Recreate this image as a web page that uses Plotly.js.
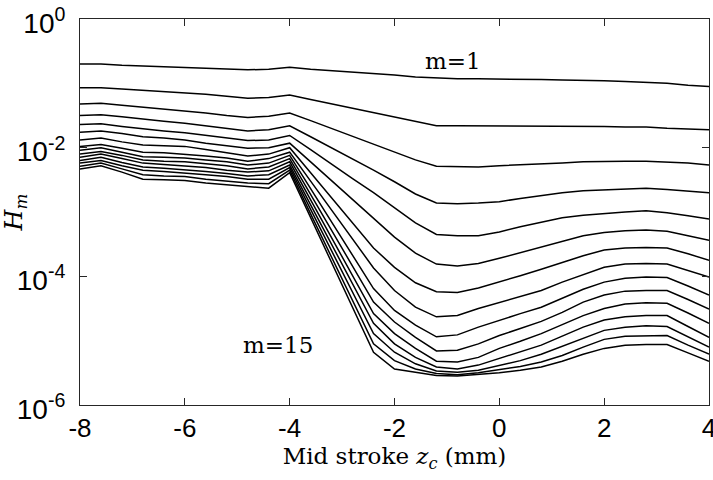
<!DOCTYPE html>
<html><head><meta charset="utf-8">
<script src="https://cdn.plot.ly/plotly-3.0.1.min.js"></script>
<style>html,body{margin:0;padding:0;background:#fff}#chart{width:713px;height:480px}</style>
</head><body><div id="chart"></div>
<script>
// Mid stroke position z_c (mm)
const zc = [-8,-7.6,-7.2,-6.8,-6.4,-6,-5.6,-5.2,-4.8,-4.4,-4,-3.6,-3.2,-2.8,-2.4,-2,-1.6,-1.2,-0.8,-0.4,0,0.4,0.8,1.2,1.6,2,2.4,2.8,3.2,3.6,4];

// log10(H_m), one array per harmonic m
const logH_m1  = [-0.70,-0.70,-0.72,-0.73,-0.74,-0.75,-0.76,-0.77,-0.79,-0.78,-0.75,-0.78,-0.80,-0.82,-0.85,-0.87,-0.90,-0.92,-0.93,-0.93,-0.93,-0.94,-0.94,-0.95,-0.95,-0.96,-0.97,-0.98,-1.00,-1.03,-1.05];
const logH_m2  = [-1.07,-1.07,-1.09,-1.11,-1.12,-1.14,-1.17,-1.20,-1.23,-1.22,-1.18,-1.25,-1.32,-1.39,-1.46,-1.52,-1.59,-1.66,-1.66,-1.66,-1.66,-1.66,-1.66,-1.66,-1.66,-1.67,-1.68,-1.68,-1.70,-1.71,-1.72];
const logH_m3  = [-1.32,-1.31,-1.34,-1.37,-1.40,-1.42,-1.46,-1.50,-1.53,-1.51,-1.46,-1.58,-1.70,-1.82,-1.94,-2.06,-2.19,-2.29,-2.30,-2.30,-2.28,-2.27,-2.25,-2.24,-2.22,-2.21,-2.21,-2.21,-2.22,-2.24,-2.27];
const logH_m4  = [-1.50,-1.49,-1.52,-1.56,-1.59,-1.62,-1.66,-1.70,-1.74,-1.72,-1.66,-1.83,-2.00,-2.17,-2.35,-2.53,-2.72,-2.86,-2.87,-2.86,-2.84,-2.79,-2.74,-2.70,-2.67,-2.66,-2.64,-2.63,-2.65,-2.68,-2.70];
const logH_m5  = [-1.64,-1.63,-1.67,-1.71,-1.74,-1.77,-1.81,-1.85,-1.89,-1.88,-1.81,-2.03,-2.26,-2.48,-2.70,-2.94,-3.17,-3.35,-3.37,-3.37,-3.31,-3.23,-3.16,-3.09,-3.05,-3.02,-3.00,-2.98,-3.01,-3.06,-3.11];
const logH_m6  = [-1.76,-1.74,-1.78,-1.83,-1.85,-1.88,-1.93,-1.97,-2.01,-2.00,-1.93,-2.22,-2.51,-2.80,-3.09,-3.39,-3.64,-3.81,-3.84,-3.80,-3.72,-3.63,-3.54,-3.45,-3.37,-3.32,-3.29,-3.28,-3.30,-3.37,-3.44];
const logH_m7  = [-1.88,-1.85,-1.91,-1.96,-1.97,-1.98,-2.03,-2.08,-2.13,-2.10,-2.00,-2.39,-2.78,-3.17,-3.56,-3.86,-4.10,-4.24,-4.25,-4.18,-4.09,-3.99,-3.89,-3.78,-3.68,-3.59,-3.56,-3.55,-3.56,-3.65,-3.75];
const logH_m8  = [-1.98,-1.95,-2.01,-2.07,-2.08,-2.10,-2.13,-2.16,-2.21,-2.17,-2.07,-2.52,-2.97,-3.42,-3.87,-4.22,-4.48,-4.63,-4.61,-4.50,-4.41,-4.31,-4.22,-4.09,-3.97,-3.86,-3.81,-3.80,-3.81,-3.91,-4.01];
const logH_m9  = [-2.04,-2.00,-2.07,-2.14,-2.15,-2.16,-2.19,-2.22,-2.27,-2.24,-2.12,-2.64,-3.15,-3.67,-4.19,-4.53,-4.76,-4.94,-4.91,-4.79,-4.68,-4.58,-4.48,-4.34,-4.20,-4.09,-4.03,-4.01,-4.02,-4.15,-4.29];
const logH_m10 = [-2.10,-2.06,-2.12,-2.19,-2.21,-2.22,-2.25,-2.28,-2.33,-2.30,-2.17,-2.73,-3.29,-3.84,-4.40,-4.71,-4.95,-5.16,-5.15,-5.05,-4.92,-4.81,-4.70,-4.56,-4.40,-4.29,-4.23,-4.22,-4.22,-4.36,-4.51];
const logH_m11 = [-2.15,-2.10,-2.17,-2.24,-2.26,-2.28,-2.31,-2.35,-2.38,-2.36,-2.22,-2.81,-3.40,-3.99,-4.58,-4.89,-5.12,-5.32,-5.33,-5.26,-5.12,-5.01,-4.89,-4.75,-4.61,-4.50,-4.43,-4.41,-4.42,-4.57,-4.73];
const logH_m12 = [-2.20,-2.15,-2.23,-2.30,-2.32,-2.34,-2.37,-2.40,-2.44,-2.42,-2.27,-2.89,-3.50,-4.12,-4.73,-5.05,-5.26,-5.41,-5.44,-5.38,-5.28,-5.18,-5.07,-4.93,-4.79,-4.68,-4.63,-4.61,-4.61,-4.78,-4.95];
const logH_m13 = [-2.24,-2.20,-2.28,-2.35,-2.37,-2.39,-2.42,-2.45,-2.49,-2.49,-2.31,-2.96,-3.60,-4.25,-4.89,-5.18,-5.36,-5.47,-5.49,-5.46,-5.38,-5.31,-5.21,-5.09,-4.96,-4.84,-4.79,-4.77,-4.78,-4.94,-5.10];
const logH_m14 = [-2.29,-2.24,-2.33,-2.42,-2.44,-2.45,-2.49,-2.52,-2.55,-2.56,-2.35,-3.03,-3.70,-4.37,-5.05,-5.31,-5.44,-5.51,-5.53,-5.50,-5.45,-5.40,-5.33,-5.23,-5.10,-4.98,-4.93,-4.92,-4.92,-5.07,-5.21];
const logH_m15 = [-2.33,-2.28,-2.38,-2.49,-2.50,-2.51,-2.55,-2.58,-2.61,-2.63,-2.39,-3.09,-3.79,-4.48,-5.18,-5.44,-5.49,-5.54,-5.55,-5.53,-5.50,-5.46,-5.41,-5.32,-5.21,-5.12,-5.07,-5.06,-5.06,-5.19,-5.32];

const xTickVals = [-8,-6,-4,-2,0,2,4];
const xTickText = ['-8','-6','-4','-2','0','2','4'];
const yTickVals = [1,1e-2,1e-4,1e-6];
const yTickText = ['10<sup>0</sup>','10<sup>-2</sup>','10<sup>-4</sup>','10<sup>-6</sup>'];

const series = [logH_m1,logH_m2,logH_m3,logH_m4,logH_m5,logH_m6,logH_m7,logH_m8,logH_m9,logH_m10,logH_m11,logH_m12,logH_m13,logH_m14,logH_m15];

const traces = series.map((lg, i) => ({
  type: 'scatter', mode: 'lines', name: 'm=' + (i + 1),
  x: zc, y: lg.map(v => Math.pow(10, v)),
  line: {color: '#000000', width: 1.5}, showlegend: false
}));

const axisCol = '#262626';
const serif = 'DejaVu Serif, serif';
const sans = 'Liberation Sans, Arial, sans-serif';
const layout = {
  width: 713, height: 480,
  margin: {l: 80, r: 4, t: 19, b: 75, pad: 0},
  paper_bgcolor: '#ffffff', plot_bgcolor: '#ffffff',
  showlegend: false,
  xaxis: {
    range: [-8, 4], tickvals: xTickVals, ticktext: xTickText,
    ticks: 'inside', ticklen: 7, tickwidth: 1, tickcolor: axisCol,
    showline: true, linecolor: axisCol, linewidth: 1, mirror: 'ticks',
    showgrid: false, zeroline: false, automargin: false,
    ticklabeloverflow: 'allow',
    tickfont: {family: sans, size: 26, color: '#000'},
    title: {text: 'Mid stroke <i>z</i><sub><i>c</i></sub> (mm)', standoff: 0,
            font: {family: serif, size: 23, color: '#000'}}
  },
  yaxis: {
    type: 'log', range: [-6, 0], tickvals: yTickVals, ticktext: yTickText,
    ticks: 'inside', ticklen: 7, tickwidth: 1, tickcolor: axisCol,
    showline: true, linecolor: axisCol, linewidth: 1, mirror: 'ticks',
    showgrid: false, zeroline: false, automargin: false,
    ticklabeloverflow: 'allow', ticklabelstandoff: 8, ticklabelshift: 4,
    tickfont: {family: sans, size: 28, color: '#000'},
    title: {text: '<i>H</i><sub><i>m</i></sub>', standoff: 0,
            font: {family: serif, size: 24, color: '#000'}}
  },
  annotations: [
    {x: -0.88, y: -0.66, xref: 'x', yref: 'y', text: 'm=1', showarrow: false,
     xanchor: 'center', yanchor: 'middle',
     font: {family: serif, size: 23, color: '#000'}},
    {x: -4.22, y: -5.07, xref: 'x', yref: 'y', text: 'm=15', showarrow: false,
     xanchor: 'center', yanchor: 'middle',
     font: {family: serif, size: 23, color: '#000'}}
  ]
};

Plotly.newPlot('chart', traces, layout, {displayModeBar: false, staticPlot: true});
</script>
</body></html>
